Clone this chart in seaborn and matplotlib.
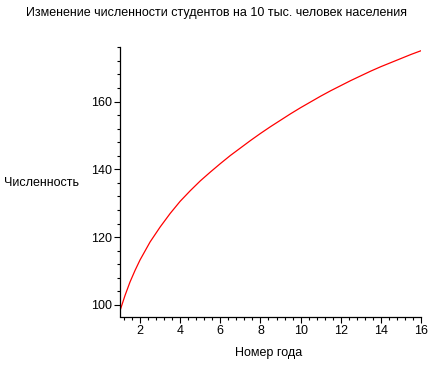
import numpy as np
import pandas as pd
import matplotlib
matplotlib.use('Agg')
import matplotlib.pyplot as plt
import seaborn as sns
from matplotlib.ticker import MultipleLocator

# values
years = [1, 1.25, 1.5, 1.75, 2, 2.5, 3, 3.5, 4, 4.5, 5, 5.5, 6, 6.5, 7, 7.5,
         8, 8.5, 9, 9.5, 10, 10.5, 11, 11.5, 12, 12.5, 13, 13.5, 14, 14.5,
         15, 15.5, 16]
students = [98.3, 102.8, 106.8, 110.2, 113.3, 118.6, 123.0, 127.0, 130.6,
            133.7, 136.6, 139.2, 141.7, 144.1, 146.3, 148.5, 150.6, 152.6,
            154.5, 156.4, 158.2, 159.9, 161.6, 163.2, 164.7, 166.2, 167.6,
            169.0, 170.3, 171.5, 172.7, 173.9, 175.0]
x_ticks = [2, 4, 6, 8, 10, 12, 14, 16]
y_ticks = [100, 120, 140, 160]

title = 'Изменение численности студентов на 10 тыс. человек населения'
x_label = 'Номер года'
y_label = 'Численность'

sns.set_style('ticks')
plt.rcParams['font.family'] = ['Liberation Sans', 'DejaVu Sans']
plt.rcParams['text.color'] = 'black'
plt.rcParams['xtick.color'] = 'black'
plt.rcParams['ytick.color'] = 'black'

df = pd.DataFrame({'year': years, 'students': students})

fig = plt.figure(figsize=(4.32, 3.84), dpi=100)
ax = fig.add_axes([120 / 432, 1 - 316.5 / 384, 301 / 432, (316.5 - 47) / 384])

sns.lineplot(data=df, x='year', y='students', color='#ff0000', linewidth=0.9, ax=ax)

ax.set_xlim(1, 16)
ax.set_ylim(96.6, 176.1)
ax.set_xticks(x_ticks)
ax.set_yticks(y_ticks)
ax.xaxis.set_minor_locator(MultipleLocator(0.4))
ax.yaxis.set_minor_locator(MultipleLocator(4))
ax.tick_params(which='major', length=4, width=0.8, labelsize=9, pad=2,
               color='black', labelcolor='black')
ax.tick_params(which='minor', length=2.5, width=0.8, color='black')
for side in ['top', 'right']:
    ax.spines[side].set_visible(False)
for side in ['left', 'bottom']:
    ax.spines[side].set_color('black')
    ax.spines[side].set_linewidth(0.9)
ax.set_xlabel('')
ax.set_ylabel('')

fig.text(0.5, 1 - 13 / 384, title, ha='center', va='center', fontsize=9)
fig.text(4 / 432, 1 - 183 / 384, y_label, ha='left', va='center', fontsize=9)
fig.text(269 / 432, 1 - 353 / 384, x_label, ha='center', va='center', fontsize=9)

fig.savefig('out.png', dpi=100)
